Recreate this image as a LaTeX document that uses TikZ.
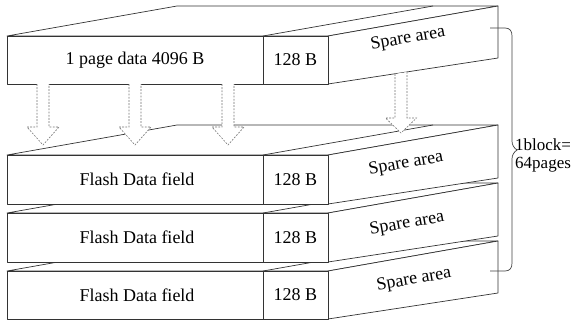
\documentclass[tikz,border=0pt]{standalone}
\usepackage{fontspec}
\setmainfont{Liberation Serif}
\newcommand\pageblock[2]{%
  \path[blk] (7,#1) -- (177,{#1-30}) -- (498,{#1-30}) -- (328,#1) -- cycle;
  \draw[blk] (263,#1) -- (433,{#1-30});
  \path[blk] (328,#1) -- (498,{#1-30}) -- (498,{#2-26}) -- (328,#2) -- cycle;
  \path[blk] (7,#1) rectangle (328,#2);
  \draw[blk] (263,#1) -- (263,#2);
}
\newcommand\hollowarrow[6]{% cx, ytopleft, ytopright, yhead, ytip, half head width
  \path[hollow] ({#1-6},#2) -- ({#1-6},#4) -- ({#1-#6},#4) -- (#1,#5) -- ({#1+#6},#4) -- ({#1+6},#4) -- ({#1+6},#3);
}
\begin{document}
\begin{tikzpicture}[x=1pt,y=-1pt,
  blk/.style={draw=black!80,line width=0.7pt,fill=white,line join=round},
  hollow/.style={draw=black!55,dash pattern=on 1.8pt off 1.4pt,line width=0.6pt,fill=white},
  lbl/.style={font=\fontsize{18}{20}\selectfont,inner sep=0pt},
  spare/.style={lbl,rotate=10},
  side/.style={font=\fontsize{17}{19}\selectfont,inner sep=0pt,anchor=west},
  bracestyle/.style={draw=black!75,line width=0.7pt}]
\useasboundingbox (0,0) rectangle (579,322);
% blocks, back (bottom) to front (top)
\pageblock{271}{319}
\pageblock{213}{262}
\pageblock{155}{204}
\pageblock{36}{84}
% arrows
\hollowarrow{43}{84}{84}{127}{145}{16}
\hollowarrow{135}{84}{84}{127}{145}{16}
\hollowarrow{228}{84}{84}{127}{145}{16}
\hollowarrow{401}{74}{72}{118}{133}{15.5}
% labels
\node[lbl] (d1) at (135,60) {1 page data 4096 B};
\node[lbl] (c1) at (295.5,60) {128 B};
\node[spare] (s1) at (408,39) {Spare area};
\node[lbl] (d2) at (137,179.5) {Flash Data field};
\node[lbl] (c2) at (295.5,179.5) {128 B};
\node[spare] (s2) at (406,164) {Spare area};
\node[lbl] (d3) at (137,237.5) {Flash Data field};
\node[lbl] (c3) at (295.5,237.5) {128 B};
\node[spare] (s3) at (407,224) {Spare area};
\node[lbl] (d4) at (137,295) {Flash Data field};
\node[lbl] (c4) at (295.5,295) {128 B};
\node[spare] (s4) at (414,280) {Spare area};
% brace
\coordinate (bt) at (490,28);
\coordinate (bb) at (490,271);
\draw[bracestyle] (bt) -- (505,28) .. controls (510,28) and (512,31) .. (512,36) -- (512,141)
  .. controls (512,145) and (514,148) .. (517,150) .. controls (514,152) and (512,155) .. (512,159)
  -- (512,263) .. controls (512,268) and (510,271) .. (505,271) -- (bb);
\node[side] (t1) at (515,145) {1block=};
\node[side] (t2) at (515,165) {64pages};
\end{tikzpicture}
\end{document}
